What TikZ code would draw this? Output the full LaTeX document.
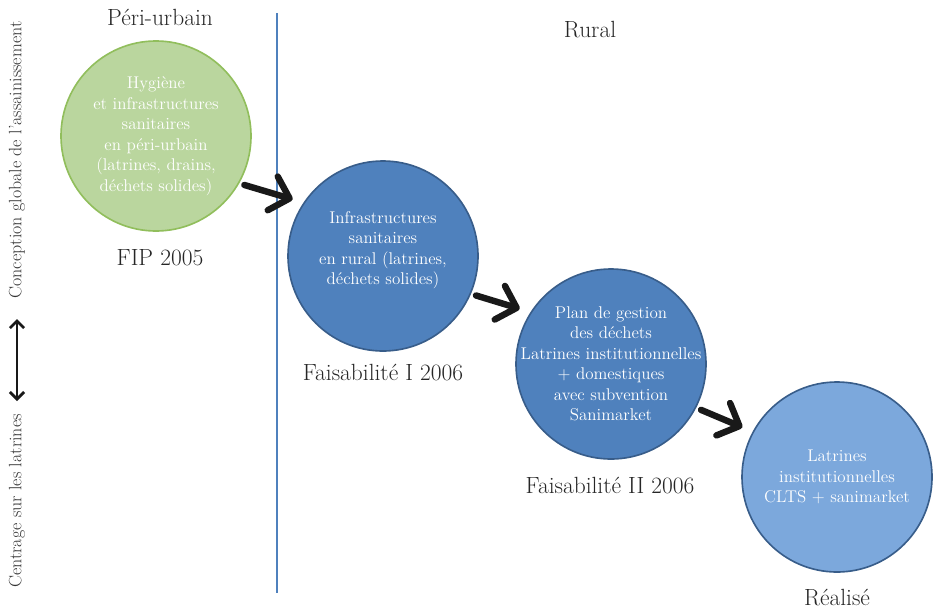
\documentclass[tikz,border=0pt]{standalone}
\usepackage{tikz}
\usepackage{xcolor}
\usetikzlibrary{arrows.meta}

\definecolor{greenfill}{RGB}{186,214,158}
\definecolor{greenline}{RGB}{145,190,92}
\definecolor{bluefill}{RGB}{79,129,189}
\definecolor{lightfill}{RGB}{124,168,220}
\definecolor{blueline}{RGB}{56,93,138}

\begin{document}
\begin{tikzpicture}[x=0.03cm,y=-0.03cm]
\tikzset{
  stage/.style={circle, line width=1.4pt, minimum size=5.7cm, inner sep=0pt,
    outer sep=0.18cm},
  stagetext/.style={align=center, text=white, inner sep=0pt,
    font=\fontsize{14.5}{17.5}\selectfont},
  lbl/.style={font=\fontsize{20}{22}\selectfont, text=black!85},
  side/.style={font=\fontsize{15.3}{17}\selectfont, text=black!80, rotate=90},
  bigarrow/.style={line width=5.5pt, black!90, shorten >=5pt, line cap=round,
    -{Straight Barb[length=15pt, width=30pt, round]}}
}
\useasboundingbox (0,0) rectangle (933,610);
% headings
\node[lbl] (peri) at (160,17) {Péri-urbain};
\node[lbl] (rural) at (590,30) {Rural};
\draw [bluefill, line width=1pt] (277,13) -- (277,593);
% stages
\node[stage, fill=greenfill, draw=greenline] (g) at (156,136) {};
\node[stagetext] (gtext) at (g) {Hygiène\\et infrastructures\\sanitaires\\en péri-urbain\\(latrines, drains,\\déchets solides)};
\node[stage, fill=bluefill, draw=blueline] (b1) at (383,256) {};
\node[stagetext] (b1text) at (383,250) {Infrastructures\\sanitaires\\en rural (latrines,\\déchets solides)};
\node[stage, fill=bluefill, draw=blueline] (b2) at (611,364) {};
\node[stagetext] (b2text) at (b2) {Plan de gestion\\des déchets\\Latrines institutionnelles\\+ domestiques\\avec subvention\\Sanimarket};
\node[stage, fill=lightfill, draw=blueline] (b3) at (837,477) {};
\node[stagetext] (b3text) at (b3) {Latrines\\institutionnelles\\CLTS + sanimarket};
% labels under the stages
\node[lbl] (fip) at (160,258) {FIP 2005};
\node[lbl] (fais1) at (383,373) {Faisabilité I 2006};
\node[lbl] (fais2) at (610,486) {Faisabilité II 2006};
\node[lbl] (real) at (837,598) {Réalisé};
% arrows between the stages
\draw[bigarrow] (g.-29) -- (b1.147);
\draw[bigarrow] (b1.-23) -- (b2.148);
\draw[bigarrow] (b2.-27) -- (b3.152);
% side axis
\node[side] (concept) at (17,160) {Conception globale de l'assainissement};
\node[side] (centrage) at (17,501) {Centrage sur les latrines};
\coordinate (top) at (17,319);
\coordinate (bot) at (17,401);
\draw[line width=2.4pt, black!90, {Straight Barb[length=6pt, width=12pt]}-{Straight Barb[length=6pt, width=12pt]}]
  (top) -- (bot);
\end{tikzpicture}
\end{document}
